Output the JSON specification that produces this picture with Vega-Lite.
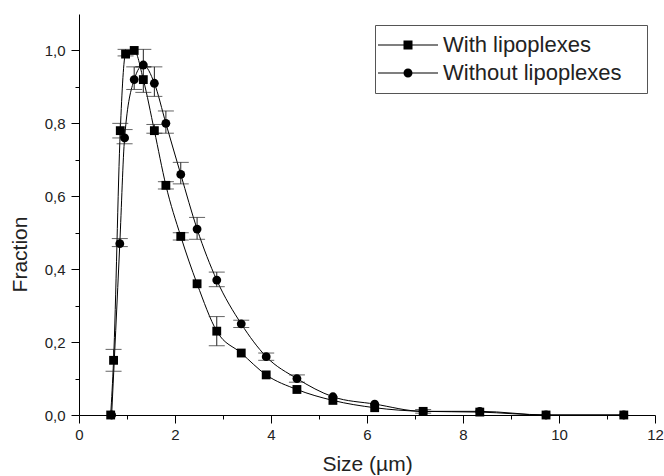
{
  "$schema": "https://vega.github.io/schema/vega-lite/v6.json",
  "width": 576,
  "height": 401,
  "autosize": {"type": "none"},
  "padding": {"left": 79, "top": 14, "right": 9, "bottom": 61},
  "background": "white",
  "config": {"view": {"stroke": null}, "font": "Liberation Sans"},
  "data": {
    "values": [
      {"series": "With lipoplexes", "size": 0.66, "fraction": 0.0},
      {"series": "With lipoplexes", "size": 0.72, "fraction": 0.15, "lo": 0.12, "hi": 0.18},
      {"series": "With lipoplexes", "size": 0.86, "fraction": 0.78, "lo": 0.76, "hi": 0.80},
      {"series": "With lipoplexes", "size": 0.97, "fraction": 0.99, "lo": 0.985, "hi": 1.003},
      {"series": "With lipoplexes", "size": 1.15, "fraction": 1.0},
      {"series": "With lipoplexes", "size": 1.34, "fraction": 0.92, "lo": 0.885, "hi": 0.955},
      {"series": "With lipoplexes", "size": 1.57, "fraction": 0.78, "lo": 0.773, "hi": 0.797},
      {"series": "With lipoplexes", "size": 1.81, "fraction": 0.63, "lo": 0.62, "hi": 0.64},
      {"series": "With lipoplexes", "size": 2.12, "fraction": 0.49, "lo": 0.48, "hi": 0.50},
      {"series": "With lipoplexes", "size": 2.46, "fraction": 0.36},
      {"series": "With lipoplexes", "size": 2.87, "fraction": 0.23, "lo": 0.19, "hi": 0.27},
      {"series": "With lipoplexes", "size": 3.38, "fraction": 0.17},
      {"series": "With lipoplexes", "size": 3.9, "fraction": 0.11},
      {"series": "With lipoplexes", "size": 4.54, "fraction": 0.07},
      {"series": "With lipoplexes", "size": 5.29, "fraction": 0.04},
      {"series": "With lipoplexes", "size": 6.16, "fraction": 0.02},
      {"series": "With lipoplexes", "size": 7.17, "fraction": 0.01},
      {"series": "With lipoplexes", "size": 8.35, "fraction": 0.008},
      {"series": "With lipoplexes", "size": 9.73, "fraction": 0.0},
      {"series": "With lipoplexes", "size": 11.35, "fraction": 0.0},
      {"series": "Without lipoplexes", "size": 0.68, "fraction": 0.0},
      {"series": "Without lipoplexes", "size": 0.85, "fraction": 0.47, "lo": 0.462, "hi": 0.484},
      {"series": "Without lipoplexes", "size": 0.95, "fraction": 0.76, "lo": 0.744, "hi": 0.783},
      {"series": "Without lipoplexes", "size": 1.15, "fraction": 0.92, "lo": 0.893, "hi": 0.955},
      {"series": "Without lipoplexes", "size": 1.34, "fraction": 0.96, "lo": 0.955, "hi": 1.003},
      {"series": "Without lipoplexes", "size": 1.57, "fraction": 0.91, "lo": 0.874, "hi": 0.955},
      {"series": "Without lipoplexes", "size": 1.81, "fraction": 0.80, "lo": 0.773, "hi": 0.834},
      {"series": "Without lipoplexes", "size": 2.12, "fraction": 0.66, "lo": 0.634, "hi": 0.693},
      {"series": "Without lipoplexes", "size": 2.46, "fraction": 0.51, "lo": 0.482, "hi": 0.542},
      {"series": "Without lipoplexes", "size": 2.87, "fraction": 0.37, "lo": 0.352, "hi": 0.392},
      {"series": "Without lipoplexes", "size": 3.38, "fraction": 0.25, "lo": 0.24, "hi": 0.26},
      {"series": "Without lipoplexes", "size": 3.9, "fraction": 0.16, "lo": 0.15, "hi": 0.17},
      {"series": "Without lipoplexes", "size": 4.54, "fraction": 0.10, "lo": 0.09, "hi": 0.11},
      {"series": "Without lipoplexes", "size": 5.29, "fraction": 0.05},
      {"series": "Without lipoplexes", "size": 6.16, "fraction": 0.03},
      {"series": "Without lipoplexes", "size": 7.17, "fraction": 0.01, "lo": 0.005, "hi": 0.015},
      {"series": "Without lipoplexes", "size": 8.35, "fraction": 0.01},
      {"series": "Without lipoplexes", "size": 9.73, "fraction": 0.0},
      {"series": "Without lipoplexes", "size": 11.35, "fraction": 0.0}
    ]
  },
  "layer": [
    {
      "encoding": {
        "x": {
          "field": "size", "type": "quantitative",
          "scale": {"domain": [0, 12], "nice": false, "zero": false},
          "axis": {
            "title": "Size (µm)", "titleFontSize": 21, "titleFontWeight": "normal", "titleColor": "#222", "titlePadding": 11,
            "values": [0, 2, 4, 6, 8, 10, 12],
            "labelFontSize": 15, "labelColor": "#222", "labelPadding": 4, "labelFlush": false, "labelOverlap": false,
            "tickSize": 8, "tickColor": "black", "domainColor": "black", "grid": false
          }
        },
        "y": {
          "field": "fraction", "type": "quantitative",
          "scale": {"domain": [0, 1.1], "nice": false},
          "axis": {
            "title": "Fraction", "titleFontSize": 21, "titleFontWeight": "normal", "titleColor": "#222", "titlePadding": 14,
            "titleY": 240,
            "values": [0, 0.2, 0.4, 0.6, 0.8, 1.0],
            "labelExpr": "replace(format(datum.value, '.1f'), '.', ',')",
            "labelFontSize": 15, "labelColor": "#222", "labelPadding": 6, "labelFlush": false, "labelOverlap": false,
            "tickSize": 8, "tickColor": "black", "domainColor": "black", "grid": false
          }
        }
      },
      "layer": [
        {
          "mark": {"type": "line", "interpolate": "monotone", "color": "black", "strokeWidth": 1},
          "encoding": {"detail": {"field": "series"}}
        },
        {
          "transform": [{"filter": "isValid(datum.lo)"}],
          "mark": {"type": "rule", "color": "#222", "strokeWidth": 1},
          "encoding": {"y": {"field": "lo", "type": "quantitative"}, "y2": {"field": "hi"}}
        },
        {
          "transform": [{"filter": "isValid(datum.lo)"}],
          "mark": {"type": "tick", "orient": "horizontal", "color": "#222", "thickness": 1, "size": 16},
          "encoding": {"y": {"field": "lo", "type": "quantitative"}}
        },
        {
          "transform": [{"filter": "isValid(datum.lo)"}],
          "mark": {"type": "tick", "orient": "horizontal", "color": "#222", "thickness": 1, "size": 16},
          "encoding": {"y": {"field": "hi", "type": "quantitative"}}
        },
        {
          "mark": {"type": "point", "filled": true, "color": "black", "opacity": 1, "size": 78},
          "encoding": {
            "shape": {"field": "series", "type": "nominal",
              "scale": {"domain": ["With lipoplexes", "Without lipoplexes"], "range": ["square", "circle"]},
              "legend": null}
          }
        },
        {
          "mark": {"type": "point", "filled": true, "color": "black", "opacity": 0, "size": 1},
          "encoding": {
            "shape": {"field": "series", "type": "nominal",
              "scale": {"domain": ["With lipoplexes", "Without lipoplexes"],
                "range": ["M-3,-0.05H3V0.05H-3ZM-0.45,-0.45H0.45V0.45H-0.45Z", "M-3,-0.05H3V0.05H-3ZM0.45,0A0.45,0.45 0 1,1 -0.45,0A0.45,0.45 0 1,1 0.45,0Z"]},
              "legend": {
                "orient": "none", "legendX": 296, "legendY": 11, "title": null,
                "labelFontSize": 22, "labelColor": "#222", "labelOffset": 24, "labelLimit": 400,
                "labelExpr": "datum.label + '\u2800'",
                "symbolSize": 400, "symbolOffset": 13,
                "symbolFillColor": "black", "symbolStrokeColor": "black",
                "symbolStrokeWidth": 0, "symbolOpacity": 1,
                "strokeColor": "#555", "fillColor": "white", "padding": 9, "rowPadding": 6,
                "encode": {"symbols": {"update": {"fill": {"value": "black"}, "opacity": {"value": 1}}}}
              }
            }
          }
        }
      ],
      "resolve": {"scale": {"shape": "independent"}}
    },
    {
      "mark": {"type": "point", "opacity": 0, "size": 1},
      "encoding": {
        "x": {
          "field": "size", "type": "quantitative",
          "scale": {"domain": [0, 12], "nice": false, "zero": false},
          "axis": {"orient": "bottom", "values": [1, 3, 5, 7, 9, 11], "labels": false, "title": null, "domain": false,
            "tickSize": 4, "tickColor": "black", "grid": false}
        },
        "y": {
          "field": "fraction", "type": "quantitative",
          "scale": {"domain": [0, 1.1], "nice": false},
          "axis": {"orient": "left", "values": [0.1, 0.3, 0.5, 0.7, 0.9], "labels": false, "title": null, "domain": false,
            "tickSize": 4, "tickColor": "black", "grid": false}
        }
      }
    }
  ],
  "resolve": {"axis": {"x": "independent", "y": "independent"}}
}
